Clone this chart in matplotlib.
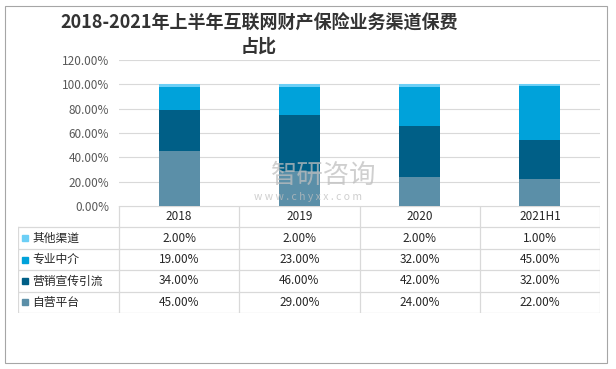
import numpy as np
import matplotlib.pyplot as plt
from matplotlib.patches import Rectangle

plt.rcParams['font.family'] = ['Noto Sans CJK SC', 'DejaVu Sans']

# data
years = ["2018", "2019", "2020", "2021H1"]
series_names = ["自营平台", "营销宣传引流", "专业中介", "其他渠道"]
ziying = [45, 29, 24, 22]
yingxiao = [34, 46, 42, 32]
zhuanye = [19, 23, 32, 45]
qita = [2, 2, 2, 1]
colors = ["#5B8FA8", "#005F87", "#00A2DA", "#6CCFF6"]

values = [ziying, yingxiao, zhuanye, qita]

fig = plt.figure(figsize=(6.16, 3.69), dpi=100)
fig.patches.append(Rectangle((5 / 616, 6 / 369), 602 / 616, 357 / 369,
                             transform=fig.transFigure, fill=False,
                             edgecolor="#A6A6A6", linewidth=0.8))

ax = fig.add_axes([119 / 616, 1 - 206 / 369, 481 / 616, 146 / 369])
x = np.arange(len(years))
bottom = np.zeros(len(years))
for vals, c in zip(values, colors):
    v = np.array(vals) / 100
    ax.bar(x, v, 0.34, bottom=bottom, color=c, zorder=2)
    bottom += v

ax.set_xlim(-0.5, 3.5)
ax.set_ylim(0, 1.2)
ax.set_yticks(np.arange(0, 1.21, 0.2))
ax.set_yticklabels(["%.2f%%" % (t * 100) for t in np.arange(0, 1.21, 0.2)])
ax.tick_params(axis="y", length=0, labelsize=8.5, labelcolor="#595959", pad=7)
ax.set_xticks([])
ax.grid(axis="y", color="#D9D9D9", linewidth=0.8, zorder=0)
for s in ax.spines.values():
    s.set_visible(False)

# watermark
ax.text(1.2, 0.255, "智研咨询", fontsize=19, color="#BFBFBF", alpha=0.75,
        ha="center", va="center", zorder=3)
ax.text(1.07, 0.074, "w w w . c h y x x . c o m", fontsize=7.5, color="#BFBFBF",
        alpha=0.75, ha="center", va="center", zorder=3)

# data table
lab_w = 101 / 120.25
tab = fig.add_axes([18 / 616, 1 - 313 / 369, 582 / 616, 107 / 369])
tab.set_xlim(-0.5 - lab_w, 3.5)
tab.set_ylim(5, 0)
tab.axis("off")
lc = "#D9D9D9"
for i in range(5):
    tab.plot([i - 0.5, i - 0.5], [0, 5], color=lc, lw=0.9)
tab.plot([-0.5 - lab_w, -0.5 - lab_w], [1, 5], color=lc, lw=0.9)
tab.plot([-0.5, 3.5], [0, 0], color=lc, lw=0.9)
for r in range(1, 6):
    tab.plot([-0.5 - lab_w, 3.5], [r, r], color=lc, lw=0.9)

for j, yr in enumerate(years):
    tab.text(j, 0.5, yr, ha="center", va="center", fontsize=8.5, color="#262626")

rows = list(zip(series_names, values, colors))[::-1]
for r, (name, vals, c) in enumerate(rows, start=1):
    tab.plot(-0.5 - lab_w + 0.06, r + 0.5, marker="s", ms=5, color=c,
             clip_on=False)
    tab.text(-0.5 - lab_w + 0.12, r + 0.5, name, ha="left", va="center",
             fontsize=8.5, color="#262626")
    for j, v in enumerate(vals):
        tab.text(j, r + 0.5, "%.2f%%" % v, ha="center", va="center",
                 fontsize=8.5, color="#262626")

fig.text(259 / 616, 1 - 23 / 369, "2018-2021年上半年互联网财产保险业务渠道保费",
         ha="center", va="center", fontsize=13, fontweight="bold", color="#333333")
fig.text(259 / 616, 1 - 46 / 369, "占比", ha="center", va="center",
         fontsize=13, fontweight="bold", color="#333333")

fig.savefig("out.png", dpi=100)
